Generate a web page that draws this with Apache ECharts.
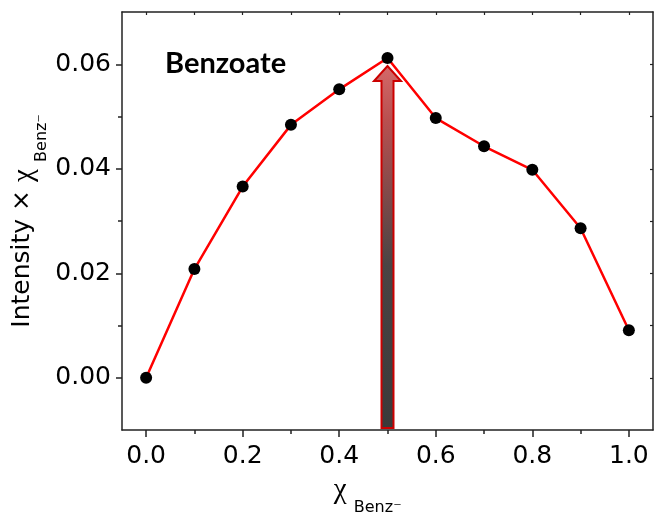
<!DOCTYPE html>
<html>
<head>
<meta charset="utf-8">
<title>Benzoate Job plot</title>
<script src="https://cdn.jsdelivr.net/npm/echarts@6/dist/echarts.min.js"></script>
<style>
  html, body { margin: 0; padding: 0; background: #fff; }
  #chart { width: 655px; height: 518px; }
</style>
</head>
<body>
<div id="chart"></div>
<script>
// Mole fraction of benzoate and the corresponding Intensity × χ values
const moleFraction = [0.0, 0.1, 0.2, 0.3, 0.4, 0.5, 0.6, 0.7, 0.8, 0.9, 1.0];
const intensityChi = [0.0, 0.0208, 0.0366, 0.0484, 0.0552, 0.0612, 0.0497, 0.0443, 0.0398, 0.0286, 0.0091];

// Axis ranges
const xRange = [-0.05, 1.05];
const yRange = [-0.01, 0.07];

// Tick positions
const xMajorTicks = [0.0, 0.2, 0.4, 0.6, 0.8, 1.0];
const xMinorTicks = [0.1, 0.3, 0.5, 0.7, 0.9];
const xTopTicks = [0.0, 0.1, 0.2, 0.3, 0.4, 0.5, 0.6, 0.7, 0.8, 0.9, 1.0];
const yMajorTicks = [0.00, 0.02, 0.04, 0.06];
const yMinorTicks = [0.01, 0.03, 0.05];
const yRightTicks = [0.00, 0.01, 0.02, 0.03, 0.04, 0.05, 0.06];

// Arrow marks the maximum of the curve
let peakIdx = 0;
intensityChi.forEach((v, i) => { if (v > intensityChi[peakIdx]) peakIdx = i; });
const arrowData = [[moleFraction[peakIdx], yRange[0], intensityChi[peakIdx]]];

const FRAME = '#222';
const TICK_FONT = 'DejaVu Sans';

const nameRich = {
  z: { fontSize: 1, lineHeight: 40 },
  c: { fontFamily: TICK_FONT, fontSize: 25, lineHeight: 26, verticalAlign: 'top', color: '#000' },
  g: { fontFamily: 'Liberation Serif', fontSize: 29, lineHeight: 26, verticalAlign: 'top', color: '#000' },
  s: { fontFamily: TICK_FONT, fontSize: 16, lineHeight: 16, verticalAlign: 'bottom', color: '#000' }
};

const chart = echarts.init(document.getElementById('chart'), null, { renderer: 'canvas' });

const hiddenAxisParts = {
  axisLabel: { show: false },
  splitLine: { show: false }
};

chart.setOption({
  animation: false,
  backgroundColor: '#fff',
  grid: { left: 122, right: 2, top: 12, bottom: 88, outerBoundsMode: 'none' },
  xAxis: [
    {
      type: 'value',
      position: 'bottom',
      min: xRange[0], max: xRange[1],
      axisLine: { show: true, onZero: false, lineStyle: { color: FRAME, width: 1.5 } },
      axisTick: { show: true, inside: false, length: 7, customValues: xMajorTicks, lineStyle: { color: FRAME, width: 1.5 } },
      axisLabel: {
        customValues: xMajorTicks,
        margin: 14,
        fontFamily: TICK_FONT, fontSize: 25, color: '#000',
        formatter: v => v.toFixed(1)
      },
      splitLine: { show: false },
      name: '{z| }{g|χ }{s|Benz⁻}',
      nameLocation: 'middle',
      nameGap: 46,
      nameMoveOverlap: false,
      nameTextStyle: { rich: nameRich, padding: [0, 40, 0, 0] }
    },
    {
      type: 'value',
      position: 'bottom',
      min: xRange[0], max: xRange[1],
      axisLine: { show: false, onZero: false },
      axisTick: { show: true, inside: false, length: 4, customValues: xMinorTicks, lineStyle: { color: FRAME, width: 1.5 } },
      ...hiddenAxisParts
    },
    {
      type: 'value',
      position: 'top',
      min: xRange[0], max: xRange[1],
      axisLine: { show: true, onZero: false, lineStyle: { color: FRAME, width: 1.5 } },
      axisTick: { show: true, inside: true, length: 3, customValues: xTopTicks, lineStyle: { color: FRAME, width: 1.2 } },
      ...hiddenAxisParts
    }
  ],
  yAxis: [
    {
      type: 'value',
      position: 'left',
      min: yRange[0], max: yRange[1],
      axisLine: { show: true, onZero: false, lineStyle: { color: FRAME, width: 1.5 } },
      axisTick: { show: true, inside: false, length: 6, customValues: yMajorTicks, lineStyle: { color: FRAME, width: 1.5 } },
      axisLabel: {
        customValues: yMajorTicks,
        margin: 11,
        fontFamily: TICK_FONT, fontSize: 25, color: '#000',
        formatter: v => v.toFixed(2)
      },
      splitLine: { show: false },
      name: '{z| }{c|Intensity × }{g|χ }{s|Benz⁻}',
      nameLocation: 'middle',
      nameGap: 72,
      nameMoveOverlap: false,
      nameTextStyle: { rich: nameRich }
    },
    {
      type: 'value',
      position: 'left',
      min: yRange[0], max: yRange[1],
      axisLine: { show: false, onZero: false },
      axisTick: { show: true, inside: false, length: 4, customValues: yMinorTicks, lineStyle: { color: FRAME, width: 1.5 } },
      ...hiddenAxisParts
    },
    {
      type: 'value',
      position: 'right',
      min: yRange[0], max: yRange[1],
      axisLine: { show: true, onZero: false, lineStyle: { color: FRAME, width: 1.5 } },
      axisTick: { show: true, inside: true, length: 3, customValues: yRightTicks, lineStyle: { color: FRAME, width: 1.2 } },
      ...hiddenAxisParts
    }
  ],
  graphic: [
    {
      type: 'text',
      x: 165, y: 64,
      style: {
        text: 'Benzoate',
        fontFamily: 'Lato', fontWeight: 'bold', fontSize: 29,
        fill: '#000',
        align: 'left', verticalAlign: 'middle'
      },
      z: 20
    }
  ],
  series: [
    {
      type: 'custom',
      xAxisIndex: 0, yAxisIndex: 0,
      data: arrowData,
      encode: { x: 0, y: [1, 2] },
      z: 1,
      silent: true,
      renderItem: function (params, api) {
        const top = api.coord([api.value(0), api.value(2)]);
        const bot = api.coord([api.value(0), api.value(1)]);
        const x = top[0];
        const tipY = top[1] + 8;   // tip stops just under the peak marker
        const headH = 15, headW = 13.5, shaftW = 6;
        const botY = bot[1] - 2;
        return {
          type: 'polygon',
          shape: {
            points: [
              [x - shaftW, botY],
              [x - shaftW, tipY + headH],
              [x - headW, tipY + headH],
              [x, tipY],
              [x + headW, tipY + headH],
              [x + shaftW, tipY + headH],
              [x + shaftW, botY]
            ]
          },
          style: {
            fill: new echarts.graphic.LinearGradient(0, 0, 0, 1, [
              { offset: 0, color: '#d46a6a' },
              { offset: 0.15, color: '#b95050' },
              { offset: 0.55, color: '#4a4444' },
              { offset: 1, color: '#3a3a3a' }
            ]),
            stroke: '#cc0000',
            lineWidth: 2
          }
        };
      }
    },
    {
      type: 'line',
      xAxisIndex: 0, yAxisIndex: 0,
      data: moleFraction.map((x, i) => [x, intensityChi[i]]),
      z: 5,
      symbol: 'circle',
      symbolSize: 12,
      lineStyle: { color: '#ff0000', width: 2.5 },
      itemStyle: { color: '#000' }
    }
  ]
});
</script>
</body>
</html>
